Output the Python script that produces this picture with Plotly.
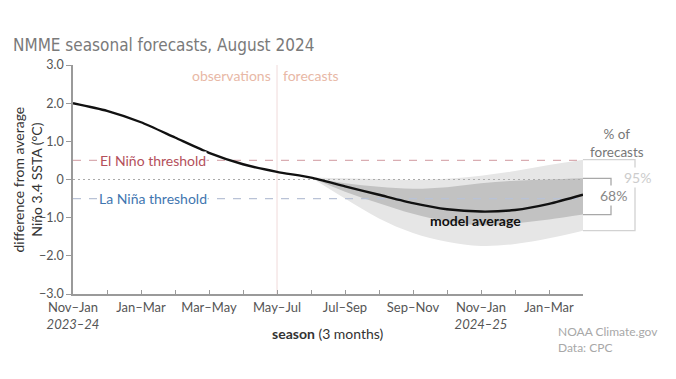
import plotly.graph_objects as go

# ---------------- data ----------------
seasons = ["Nov–Jan", "Dec–Feb", "Jan–Mar", "Feb–Apr", "Mar–May", "Apr–Jun",
           "May–Jul", "Jun–Aug", "Jul–Sep", "Aug–Oct", "Sep–Nov", "Oct–Dec",
           "Nov–Jan", "Dec–Feb", "Jan–Mar", "Feb–Apr"]
year_labels = {0: "2023–24", 12: "2024–25"}

obs_idx = [0, 1, 2, 3, 4, 5, 6]
obs_vals = [2.0, 1.8, 1.5, 1.1, 0.7, 0.4, 0.2]

fc_idx = [7, 8, 9, 10, 11, 12, 13, 14, 15]
fc_mean = [0.05, -0.18, -0.40, -0.62, -0.78, -0.84, -0.80, -0.64, -0.40]
fc_68_hi = [0.05, -0.10, -0.19, -0.24, -0.20, -0.10, -0.03, 0.00, 0.03]
fc_68_lo = [0.05, -0.32, -0.62, -0.90, -1.10, -1.20, -1.15, -1.05, -0.92]
fc_95_hi = [0.05, 0.03, 0.01, -0.01, 0.02, 0.10, 0.22, 0.38, 0.52]
fc_95_lo = [0.05, -0.50, -1.02, -1.40, -1.63, -1.74, -1.69, -1.54, -1.34]

el_nino = 0.5
la_nina = -0.5
y_ticks = [-3, -2, -1, 0, 1, 2, 3]
y_ticktext = ["−3.0", "−2.0", "−1.0", "0", "1.0", "2.0", "3.0"]

# ---------------- style ----------------
FONT = "Lato, 'Open Sans', sans-serif"
C95 = "#e6e6e6"
C68 = "#c2c2c2"

fig = go.Figure()

# 95% band
fig.add_trace(go.Scatter(x=fc_idx, y=fc_95_hi, mode="lines", line=dict(width=0, shape="spline"),
                         showlegend=False, hoverinfo="skip"))
fig.add_trace(go.Scatter(x=fc_idx, y=fc_95_lo, mode="lines", line=dict(width=0, shape="spline"),
                         fill="tonexty", fillcolor=C95, showlegend=False, hoverinfo="skip"))
# 68% band
fig.add_trace(go.Scatter(x=fc_idx, y=fc_68_hi, mode="lines", line=dict(width=0, shape="spline"),
                         showlegend=False, hoverinfo="skip"))
fig.add_trace(go.Scatter(x=fc_idx, y=fc_68_lo, mode="lines", line=dict(width=0, shape="spline"),
                         fill="tonexty", fillcolor=C68, showlegend=False, hoverinfo="skip"))

xmin, xmax = 0, len(seasons) - 1
# reference lines
fig.add_trace(go.Scatter(x=[xmin, xmax], y=[el_nino, el_nino], mode="lines",
                         line=dict(color="#d9adb2", width=1.3, dash="8px,8px"),
                         showlegend=False, hoverinfo="skip"))
fig.add_trace(go.Scatter(x=[xmin, xmax], y=[la_nina, la_nina], mode="lines",
                         line=dict(color="#b9c2d6", width=1.3, dash="8px,8px"),
                         showlegend=False, hoverinfo="skip"))
fig.add_trace(go.Scatter(x=[xmin, xmax], y=[0, 0], mode="lines",
                         line=dict(color="#aaaaaa", width=1.2, dash="2px,3px"),
                         showlegend=False, hoverinfo="skip"))

# model average line (observations + forecast)
fig.add_trace(go.Scatter(x=obs_idx + fc_idx, y=obs_vals + fc_mean, mode="lines",
                         line=dict(color="#111111", width=2.4, shape="spline", smoothing=0.6),
                         showlegend=False, hoverinfo="skip"))

# observations / forecasts divider
fig.add_shape(type="line", xref="x", yref="y", x0=obs_idx[-1], x1=obs_idx[-1], y0=-3, y1=3,
              line=dict(color="#f0dada", width=1), layer="below")

ticktext = []
tickvals = list(range(0, len(seasons), 2))
for i in tickvals:
    t = seasons[i]
    if i in year_labels:
        t += "<br><i>" + year_labels[i] + "</i>"
    ticktext.append(t)

fig.update_layout(
    width=676, height=379,
    margin=dict(l=73, r=93, t=65, b=85),
    paper_bgcolor="white", plot_bgcolor="white",
    font=dict(family=FONT, size=13, color="#555555"),
    xaxis=dict(range=[xmin, xmax], tickvals=tickvals, ticktext=ticktext,
               showgrid=False, zeroline=False, showline=True, linecolor="#9a9a9a", linewidth=1.5,
               ticks="inside", ticklen=4, tickcolor="#9a9a9a", ticklabelstandoff=1,
               minor=dict(dtick=1, tick0=0, ticks="inside", ticklen=4, tickcolor="#9a9a9a"),
               tickfont=dict(family=FONT, size=13, color="#555555")),
    yaxis=dict(range=[-3, 3], tickvals=y_ticks, ticktext=y_ticktext,
               showgrid=False, zeroline=False, showline=True, linecolor="#9a9a9a", linewidth=1.5,
               ticks="outside", ticklen=5, tickcolor="#9a9a9a",
               tickfont=dict(family=FONT, size=12.5, color="#555555")),
)

anns = []
# title
anns.append(dict(xref="paper", yref="paper", x=-73/510 + 11/510, y=1 + 20/229, xanchor="left",
                 yanchor="middle", showarrow=False,
                 text="NMME seasonal forecasts, August 2024",
                 font=dict(family="'DejaVu Sans Condensed', 'Liberation Sans Narrow', sans-serif",
                           size=17, color="#7a7a7a")))
# y title
anns.append(dict(xref="paper", yref="paper", x=-46/510, y=0.5, xanchor="center",
                 yanchor="middle", showarrow=False, textangle=-90,
                 text="difference from average<br>Niño 3.4 SSTA (°C)",
                 font=dict(family=FONT, size=14, color="#333333")))
# x title
anns.append(dict(xref="paper", yref="paper", x=(328 - 73)/510, y=-(333 - 294)/229, xanchor="center",
                 yanchor="middle", showarrow=False,
                 text="<b>season</b> (3 months)",
                 font=dict(family=FONT, size=14, color="#333333")))
# credit
anns.append(dict(xref="paper", yref="paper", x=(556 - 73)/510, y=-(339 - 294)/229, xanchor="left",
                 yanchor="middle", showarrow=False, align="left",
                 text="NOAA Climate.gov<br>Data: CPC",
                 font=dict(family=FONT, size=12, color="#a8a8a8")))
# observations / forecasts
anns.append(dict(xref="x", yref="y", x=obs_idx[-1], y=2.72, xanchor="right", xshift=-4,
                 yanchor="middle", showarrow=False, text="observations",
                 font=dict(family=FONT, size=14, color="#e8b8a6")))
anns.append(dict(xref="x", yref="y", x=obs_idx[-1], y=2.72, xanchor="left", xshift=4,
                 yanchor="middle", showarrow=False, text="forecasts",
                 font=dict(family=FONT, size=14, color="#e8b8a6")))
# thresholds
anns.append(dict(xref="x", yref="y", x=2.35, y=el_nino, xanchor="center", yanchor="middle",
                 showarrow=False, text="El Niño threshold", bgcolor="white", borderpad=0,
                 font=dict(family=FONT, size=14, color="#b4505b")))
anns.append(dict(xref="x", yref="y", x=2.35, y=la_nina, xanchor="center", yanchor="middle",
                 showarrow=False, text="La Niña threshold", bgcolor="white", borderpad=0,
                 font=dict(family=FONT, size=14, color="#3f76b0")))
# model average label
anns.append(dict(xref="x", yref="y", x=11.85, y=-1.08, xanchor="center", yanchor="middle",
                 showarrow=False, text="<b>model average</b>",
                 font=dict(family=FONT, size=14, color="#111111")))

# right-side legend brackets
x_end = 1.0
x95 = (635 - 73)/510
x68 = (611 - 73)/510
fig.add_shape(type="path", xref="paper", yref="y",
              path=f"M {x_end},{fc_95_hi[-1]} L {x95},{fc_95_hi[-1]} L {x95},{fc_95_lo[-1]} L {x_end},{fc_95_lo[-1]}",
              line=dict(color="#d2d2d2", width=1.3))
fig.add_shape(type="path", xref="paper", yref="y",
              path=f"M {x_end},{fc_68_hi[-1]} L {x68},{fc_68_hi[-1]} L {x68},{fc_68_lo[-1]} L {x_end},{fc_68_lo[-1]}",
              line=dict(color="#a8a8a8", width=1.3))
anns.append(dict(xref="paper", yref="y", x=(617 - 73)/510, y=fc_95_hi[-1] + 0.44, xanchor="center",
                 yanchor="middle", showarrow=False, text="% of<br>forecasts",
                 font=dict(family=FONT, size=13.5, color="#777777")))
anns.append(dict(xref="paper", yref="y", x=x95 + 2/510, y=0.06, xanchor="center",
                 yanchor="middle", showarrow=False, text="95%", bgcolor="white", borderpad=1,
                 font=dict(family=FONT, size=14, color="#cccccc")))
anns.append(dict(xref="paper", yref="y", x=x68 + 2/510, y=-0.42, xanchor="center",
                 yanchor="middle", showarrow=False, text="68%", bgcolor="white", borderpad=1,
                 font=dict(family=FONT, size=14, color="#888888")))

fig.update_layout(annotations=anns)
fig.write_html("out.html", config={"displayModeBar": False},
               post_script="document.body.style.margin='0';")
